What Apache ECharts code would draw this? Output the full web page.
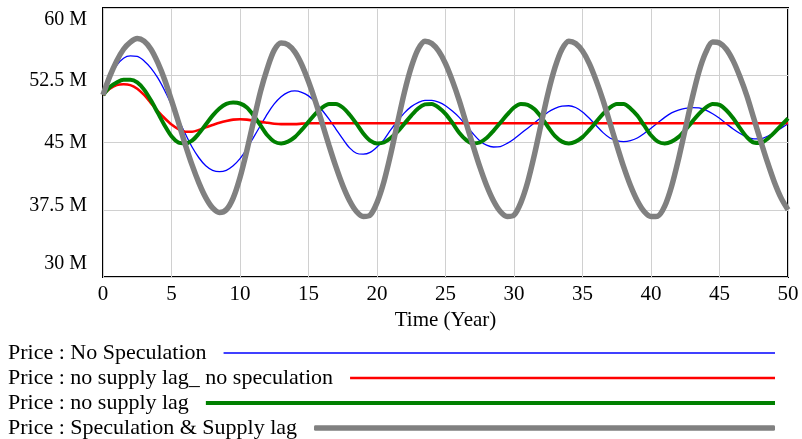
<!DOCTYPE html>
<html>
<head>
<meta charset="utf-8">
<script src="https://cdn.jsdelivr.net/npm/echarts@6/dist/echarts.min.js"></script>
<style>
html, body { margin: 0; padding: 0; background: #fff; }
#chart { width: 802px; height: 439px; }
</style>
</head>
<body>
<div id="chart"></div>
<script>
// time step of the simulation output (years)
var step = 0.5;

var seriesNames = [
	'Price : No Speculation',
	'Price : no supply lag_ no speculation',
	'Price : no supply lag',
	'Price : Speculation & Supply lag'
];

// values in millions, one every half year from 0 to 50
var noSpeculation = [
	50.3, 52.3, 53.6, 54.4, 54.65, 54.6, 54.1, 53.3, 52.2, 50.8,
	49.2, 47.6, 46.0, 44.5, 43.3, 42.4, 41.9, 41.75, 41.9, 42.4,
	43.2, 44.3, 45.6, 46.9, 48.2, 49.3, 50.1, 50.6, 50.75, 50.6,
	50.2, 49.5, 48.6, 47.6, 46.5, 45.4, 44.4, 43.8, 43.7, 43.9,
	44.5, 45.3, 46.4, 47.4, 48.3, 49.0, 49.45, 49.7, 49.7, 49.5,
	49.1, 48.5, 47.8, 46.9, 46.0, 45.2, 44.7, 44.5, 44.55, 44.9,
	45.4, 46.0, 46.6, 47.2, 47.8, 48.4, 48.8, 49.05, 49.1, 48.9,
	48.4, 47.7, 46.9, 46.1, 45.5, 45.2, 45.1, 45.2, 45.5, 46.0,
	46.6, 47.2, 47.8, 48.3, 48.6, 48.8, 48.9, 48.85, 48.6, 48.2,
	47.7, 47.1, 46.5, 46.0, 45.6, 45.4, 45.4, 45.7, 46.1, 46.6,
	47.1
];
var noLagNoSpeculation = [
	50.3, 51.0, 51.4, 51.5, 51.4, 51.0, 50.3, 49.4, 48.5, 47.7,
	47.0, 46.5, 46.2, 46.2, 46.4, 46.7, 46.95, 47.2, 47.4, 47.55,
	47.6, 47.55, 47.45, 47.3, 47.2, 47.1, 47.05, 47.05, 47.05, 47.1,
	47.15, 47.15, 47.15, 47.15, 47.15, 47.15, 47.15, 47.15, 47.15, 47.15,
	47.15, 47.15, 47.15, 47.15, 47.15, 47.15, 47.15, 47.15, 47.15, 47.15,
	47.15, 47.15, 47.15, 47.15, 47.15, 47.15, 47.15, 47.15, 47.15, 47.15,
	47.15, 47.15, 47.15, 47.15, 47.15, 47.15, 47.15, 47.15, 47.15, 47.15,
	47.15, 47.15, 47.15, 47.15, 47.15, 47.15, 47.15, 47.15, 47.15, 47.15,
	47.15, 47.15, 47.15, 47.15, 47.15, 47.15, 47.15, 47.15, 47.15, 47.15,
	47.15, 47.15, 47.15, 47.15, 47.15, 47.15, 47.15, 47.15, 47.15, 47.15,
	47.15
];
var noSupplyLag = [
	50.3, 51.2, 51.7, 52.0, 52.0, 51.7, 50.9, 49.7, 48.3, 46.9,
	45.7, 45.0, 44.9, 45.2, 46.0, 47.0, 48.0, 48.8, 49.3, 49.45,
	49.35, 48.9, 48.0, 46.9, 45.8, 45.1, 44.9, 45.1, 45.6, 46.4,
	47.3, 48.2, 48.9, 49.3, 49.3, 48.9, 48.1, 47.1, 46.0, 45.2,
	44.9, 45.0, 45.5, 46.2, 47.1, 48.0, 48.8, 49.25, 49.3, 48.9,
	48.2, 47.2, 46.1, 45.3, 44.9, 45.0, 45.5, 46.3, 47.2, 48.1,
	48.9, 49.3, 49.2, 48.7, 47.8, 46.7, 45.7, 45.1, 44.9, 45.1,
	45.6, 46.4, 47.3, 48.2, 48.9, 49.3, 49.3, 48.8, 48.0, 46.9,
	45.8, 45.1, 44.9, 45.1, 45.6, 46.4, 47.3, 48.2, 48.9, 49.3,
	49.2, 48.6, 47.7, 46.6, 45.6, 45.0, 44.95, 45.4, 46.1, 46.9,
	47.7
];
var speculationSupplyLag = [
	50.3, 52.4, 54.1, 55.4, 56.2, 56.6, 56.3, 55.4, 53.9, 52.0,
	49.7, 47.3, 44.8, 42.5, 40.5, 38.85, 37.7, 37.2, 37.5, 38.8,
	41.1, 44.1, 47.45, 50.7, 53.3, 55.3, 56.1, 55.9, 55.1, 53.7,
	51.8, 49.6, 47.15, 44.65, 42.3, 40.2, 38.5, 37.3, 36.75, 36.9,
	38.3, 40.6, 43.7, 47.2, 50.6, 53.4, 55.4, 56.3, 56.05, 55.2,
	53.8, 51.9, 49.7, 47.2, 44.7, 42.3, 40.2, 38.5, 37.3, 36.75,
	36.9, 38.3, 40.6, 43.7, 47.2, 50.6, 53.4, 55.4, 56.3, 56.05,
	55.2, 53.8, 51.9, 49.7, 47.2, 44.7, 42.3, 40.2, 38.5, 37.3,
	36.75, 36.8, 37.9, 40.1, 43.1, 46.5, 49.9, 52.9, 55.05, 56.2,
	56.1, 55.4, 54.1, 52.3, 50.2, 47.7, 45.2, 42.8, 40.6, 38.8,
	37.5
];

var yTicks = [30, 37.5, 45, 52.5, 60];
var yTickLabels = ['30 M', '37.5 M', '45 M', '52.5 M', '60 M'];

var colors = ['#0000ff', '#ff0000', '#008000', '#808080'];
var widths = [1.3, 2.6, 4, 5.5];
var font = 'Liberation Serif';
var legendSize = 22;

function pairs(values){
	var out = [];
	for(var i=0;i<values.length;i++){
		out.push([i * step, values[i]]);
	}
	return out;
}

// measure the legend text so that every legend line ends at the same x
var ctx = document.createElement('canvas').getContext('2d');
ctx.font = legendSize + 'px "' + font + '"';

var rowTops = [342, 367, 392, 417];
var legends = [];
for(var i=0;i<seriesNames.length;i++){
	var tw = ctx.measureText(seriesNames[i]).width;
	legends.push({
		data: [seriesNames[i]],
		left: 8,
		top: rowTops[i],
		padding: 0,
		align: 'right',
		selectedMode: false,
		icon: i == 3 ? 'roundRect' : 'rect',
		itemWidth: 775 - 8 - tw - 17,
		itemHeight: widths[i],
		textStyle: {
			fontFamily: font,
			fontSize: legendSize,
			color: '#000',
			padding: [0, 12, 0, 0]
		}
	});
}

var chart = echarts.init(document.getElementById('chart'));

var series = [];
var all = [noSpeculation, noLagNoSpeculation, noSupplyLag, speculationSupplyLag];
for(var j=0;j<all.length;j++){
	series.push({
		name: seriesNames[j],
		type: 'line',
		data: pairs(all[j]),
		smooth: 0.3,
		symbol: 'none',
		color: colors[j],
		lineStyle: { color: colors[j], width: widths[j] },
		itemStyle: { color: colors[j] },
		animation: false
	});
}

var yLabel = { fontFamily: font, fontSize: 20, color: '#000' };

var option = {
	backgroundColor: '#fff',
	animation: false,
	grid: {
		left: 103,
		right: 14,
		top: 8,
		bottom: 162,
		show: true,
		borderColor: '#000',
		borderWidth: 2,
		backgroundColor: 'transparent'
	},
	legend: legends,
	xAxis: {
		type: 'value',
		min: 0,
		max: 50,
		interval: 5,
		name: 'Time (Year)',
		nameLocation: 'middle',
		nameGap: 30,
		nameTextStyle: { fontFamily: font, fontSize: 21, color: '#000' },
		axisLine: { show: false },
		axisTick: { show: false },
		axisLabel: { fontFamily: font, fontSize: 21, color: '#000', margin: 7 },
		splitLine: { show: true, lineStyle: { color: '#d0d0d0', width: 1 } }
	},
	yAxis: {
		type: 'value',
		min: 30,
		max: 60,
		interval: 7.5,
		axisLine: { show: false },
		axisTick: { show: false },
		axisLabel: {
			margin: 16,
			fontFamily: font,
			fontSize: 20,
			color: '#000',
			formatter: function(v){
				var idx = yTicks.indexOf(v);
				var txt = idx >= 0 ? yTickLabels[idx] : '';
				var key = ['b', 'b2', 'm', 't2', 't'][idx];
				return '{' + key + '|' + txt + '}';
			},
			rich: {
				t: echarts.util.extend({ padding: [24, 0, 0, 0] }, yLabel),
				t2: echarts.util.extend({ padding: [10, 0, 0, 0] }, yLabel),
				m: echarts.util.extend({}, yLabel),
				b2: echarts.util.extend({ padding: [0, 0, 8, 0] }, yLabel),
				b: echarts.util.extend({ padding: [0, 0, 26, 0] }, yLabel)
			}
		},
		splitLine: { show: true, lineStyle: { color: '#d0d0d0', width: 1 } }
	},
	series: series
};
chart.setOption(option);
</script>
</body>
</html>
